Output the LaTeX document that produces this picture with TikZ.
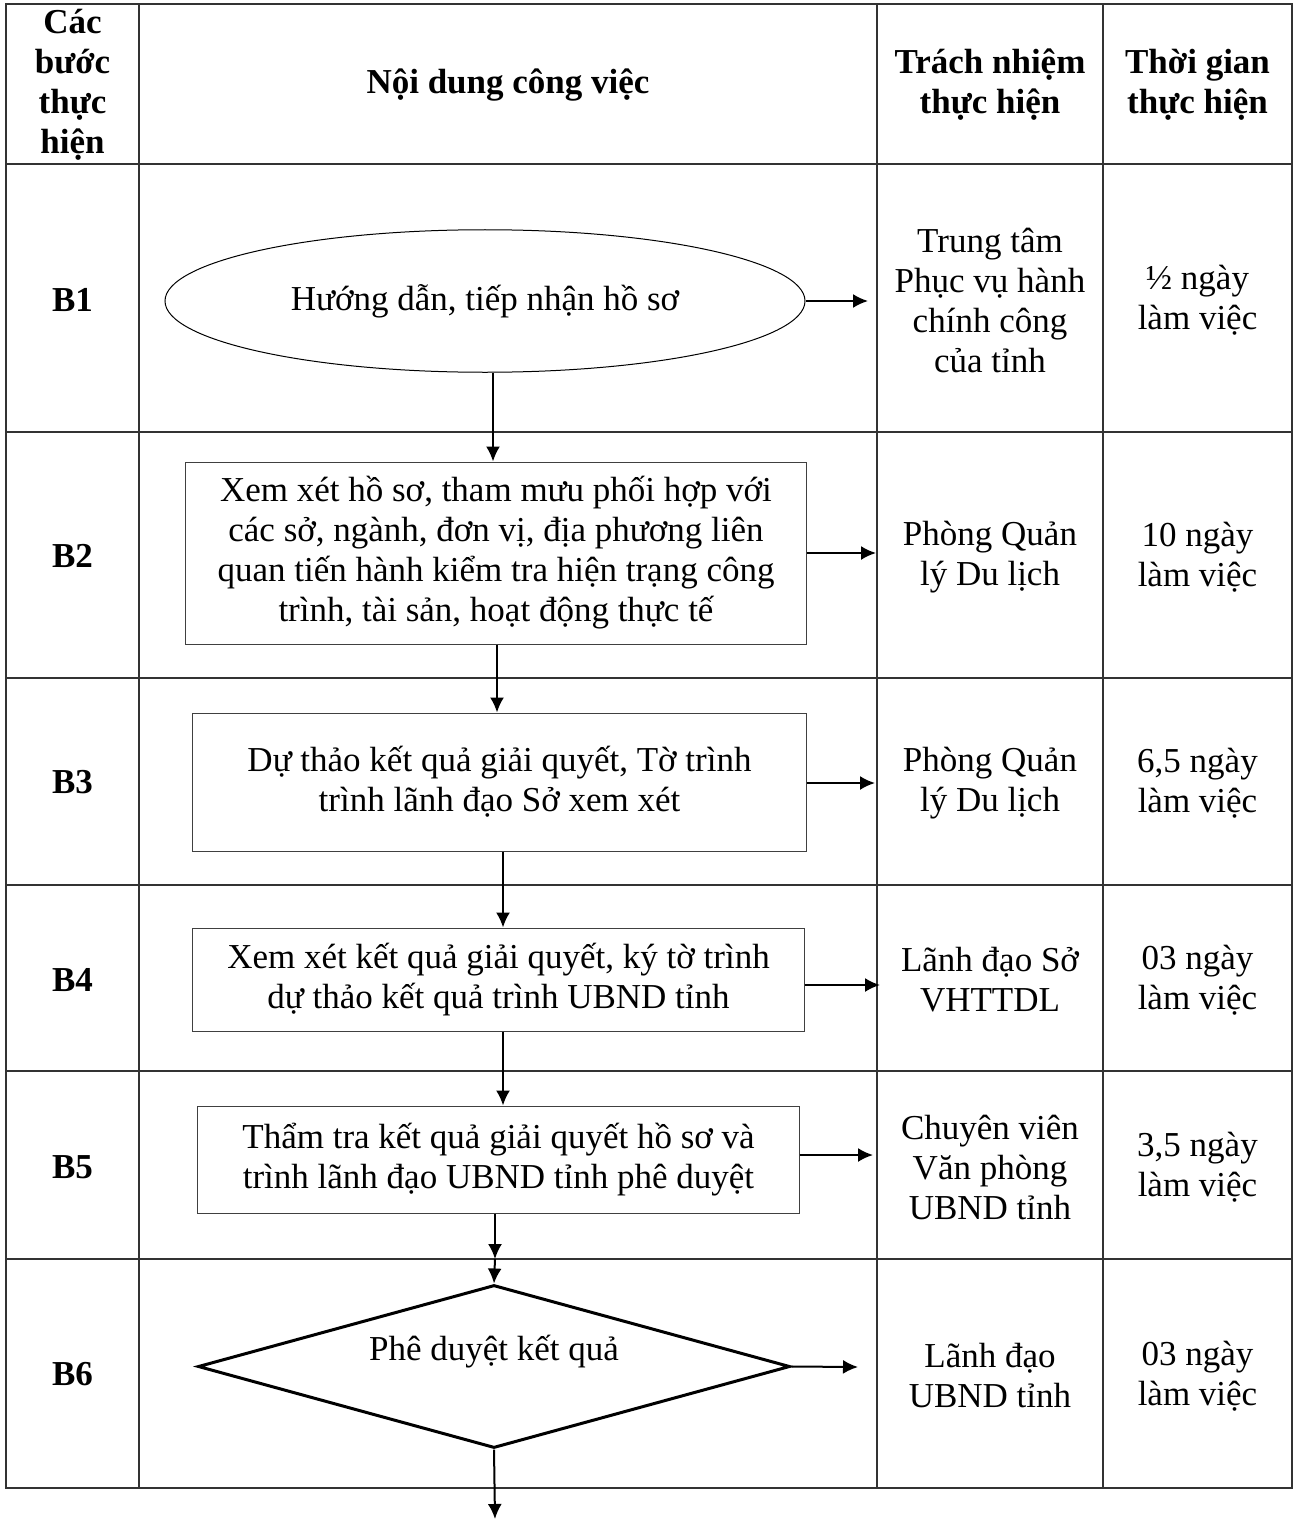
\documentclass[tikz,border=0pt]{standalone}
\usepackage{fontspec}
\setmainfont{Liberation Serif}
\usetikzlibrary{shapes.geometric, arrows.meta}
\begin{document}
\begin{tikzpicture}[x=0.4pt, y=-0.4pt, thick, font=\fontsize{14}{16}\selectfont]
	\tikzstyle{cell} = [align=center, inner sep=0pt]
	\tikzstyle{head} = [cell, font=\fontsize{14}{16}\selectfont\bfseries]
	\tikzstyle{stepbox} = [rectangle, draw=black!75, thin, inner sep=0pt, align=center]
	\tikzstyle{grid} = [draw=black!80, line width=0.8pt]
	\tikzstyle{flow} = [-{Latex[length=6pt,width=5.6pt]}, thick]
	\useasboundingbox (0,0) rectangle (1295,1519);
	\draw[grid] (6,4) rectangle (1292,1488);
	\draw[grid] (139,4) -- (139,1488);
	\draw[grid] (877,4) -- (877,1488);
	\draw[grid] (1103,4) -- (1103,1488);
	\draw[grid] (6,164) -- (1292,164);
	\draw[grid] (6,432) -- (1292,432);
	\draw[grid] (6,678) -- (1292,678);
	\draw[grid] (6,885) -- (1292,885);
	\draw[grid] (6,1071) -- (1292,1071);
	\draw[grid] (6,1259) -- (1292,1259);
	\node[head](h1) at (72.5,85) {Các\\bước\\thực\\hiện};
	\node[head](h2) at (508,85) {Nội dung công việc};
	\node[head](h3) at (990,85) {Trách nhiệm\\thực hiện};
	\node[head](h4) at (1197.5,85) {Thời gian\\thực hiện};
	\node[head](b1) at (72.5,300) {B1};
	\node[head](b2) at (72.5,556) {B2};
	\node[head](b3) at (72.5,782) {B3};
	\node[head](b4) at (72.5,980) {B4};
	\node[head](b5) at (72.5,1167) {B5};
	\node[head](b6) at (72.5,1374) {B6};
	\node[ellipse, draw, thin, inner sep=0pt, minimum width=256pt, minimum height=57pt](e1) at (485,301) {Hướng dẫn, tiếp nhận hồ sơ};
	\node[stepbox, minimum width=248pt, minimum height=72.8pt](x2) at (496,553) {Xem xét hồ sơ, tham mưu phối hợp với\\các sở, ngành, đơn vị, địa phương liên\\quan tiến hành kiểm tra hiện trạng công\\trình, tài sản, hoạt động thực tế};
	\node[stepbox, minimum width=245.2pt, minimum height=55.2pt](x3) at (499.5,782) {Dự thảo kết quả giải quyết, Tờ trình\\trình lãnh đạo Sở xem xét};
	\node[stepbox, minimum width=244.4pt, minimum height=41.2pt](x4) at (498.5,979.5) {Xem xét kết quả giải quyết, ký tờ trình\\dự thảo kết quả trình UBND tỉnh};
	\node[stepbox, minimum width=240.4pt, minimum height=42.8pt](x5) at (498.5,1159.5) {Thẩm tra kết quả giải quyết hồ sơ và\\trình lãnh đạo UBND tỉnh phê duyệt};
	\node[diamond, draw, line width=1.2pt, inner sep=0pt, minimum width=236.8pt, minimum height=65.2pt, label={[yshift=5.8pt]center:Phê duyệt kết quả}](d6) at (494,1366.5) {};
	\node[cell](t1) at (990,300) {Trung tâm\\Phục vụ hành\\chính công\\của tỉnh};
	\node[cell](t2) at (990,557) {Phòng Quản\\lý Du lịch};
	\node[cell](t3) at (990,783) {Phòng Quản\\lý Du lịch};
	\node[cell](t4) at (990,980) {Lãnh đạo Sở\\VHTTDL};
	\node[cell](t5) at (990,1167) {Chuyên viên\\Văn phòng\\UBND tỉnh};
	\node[cell](t6) at (990,1376) {Lãnh đạo\\UBND tỉnh};
	\node[cell](g1) at (1197.5,300) {½ ngày\\làm việc};
	\node[cell](g2) at (1197.5,557) {10 ngày\\làm việc};
	\node[cell](g3) at (1197.5,783) {6,5 ngày\\làm việc};
	\node[cell](g4) at (1197.5,980) {03 ngày\\làm việc};
	\node[cell](g5) at (1197.5,1167) {3,5 ngày\\làm việc};
	\node[cell](g6) at (1197.5,1376) {03 ngày\\làm việc};
	\coordinate (r1) at (868,301);
	\coordinate (r2) at (876,553);
	\coordinate (r3) at (875,783);
	\coordinate (r4) at (880,985);
	\coordinate (r5) at (873,1155);
	\coordinate (r6) at (858,1367);
	\coordinate (m5) at (495,1259);
	\coordinate (ket) at (495,1519);
	\draw[flow] (e1.east) -- (r1);
	\draw[flow] (x2.east) -- (r2);
	\draw[flow] (x3.east |- r3) -- (r3);
	\draw[flow] (x4.east |- r4) -- (r4);
	\draw[flow] (x5.east |- r5) -- (r5);
	\draw[flow] (d6.east) -- (r6);
	\draw[flow] (e1.south -| 493,0) -- (x2.north -| 493,0);
	\draw[flow] (x2.south -| 497,0) -- (x3.north -| 497,0);
	\draw[flow] (x3.south -| 503,0) -- (x4.north -| 503,0);
	\draw[flow] (x4.south -| 503,0) -- (x5.north -| 503,0);
	\draw[flow] (x5.south -| m5) -- (m5);
	\draw[flow] (m5) -- (d6.north);
	\draw[flow] (d6.south) -- (ket);
\end{tikzpicture}
\end{document}
